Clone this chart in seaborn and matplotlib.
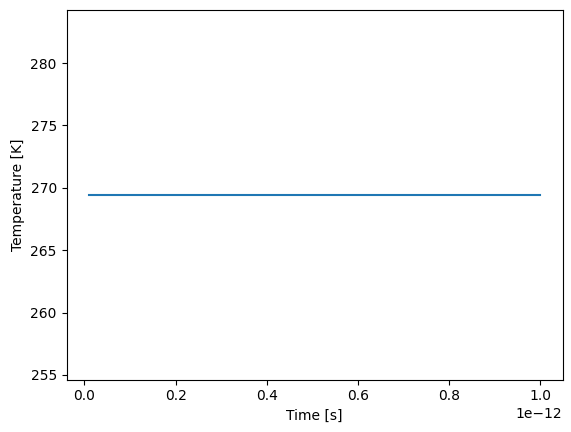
import numpy as np
import pandas as pd
import seaborn as sns
import matplotlib.pyplot as plt

# --- dati ---
tempo = [0.01e-12, 0.1e-12, 0.2e-12, 0.3e-12, 0.4e-12, 0.5e-12,
         0.6e-12, 0.7e-12, 0.8e-12, 0.9e-12, 1.0e-12]
temperatura = [269.45, 269.45, 269.45, 269.45, 269.45, 269.45,
               269.45, 269.45, 269.45, 269.45, 269.45]

df = pd.DataFrame({'Time': tempo, 'Temperature': temperatura})

# --- grafico ---
fig = plt.figure(figsize=(5.71, 4.32), dpi=100)
ax = fig.add_axes([66.5 / 571, (432 - 379.5) / 432, 496 / 571, 369.6 / 432])

sns.lineplot(data=df, x='Time', y='Temperature', ax=ax, color='#1f77b4')

ax.set_xlabel('Time [s]')
ax.set_ylabel('Temperature [K]')

fig.savefig('out.png', dpi=100)
